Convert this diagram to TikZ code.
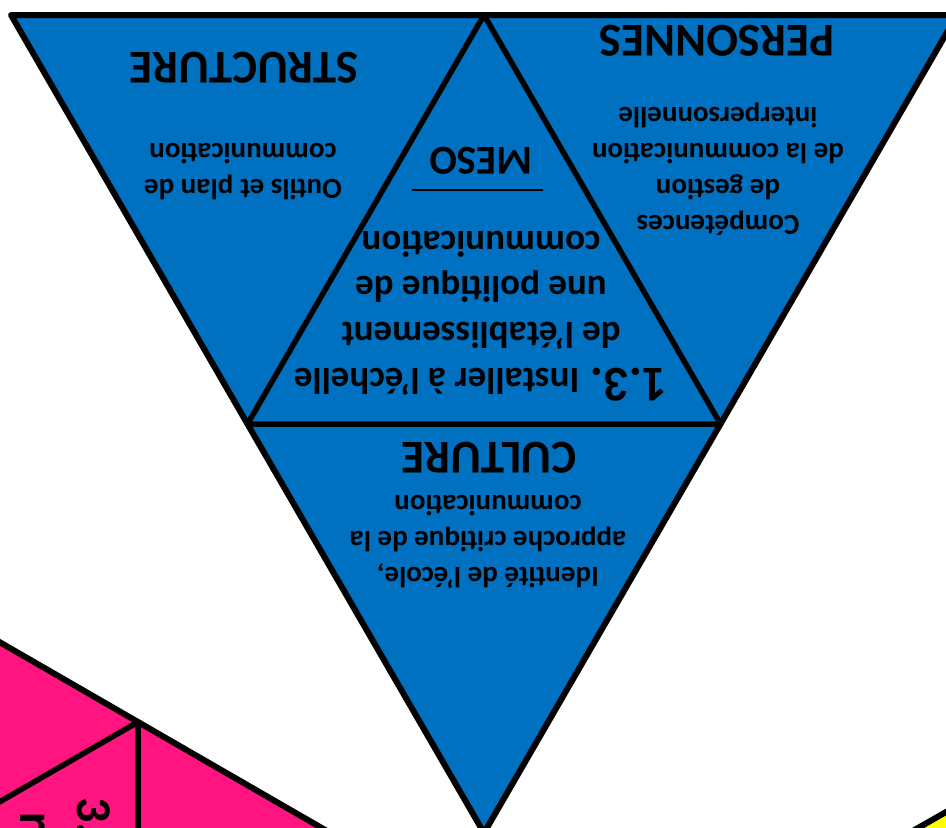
\documentclass[tikz,border=0pt]{standalone}
\usepackage{fontspec}
\setmainfont{Carlito}
\definecolor{tblue}{HTML}{0070C0}
\definecolor{tpink}{HTML}{FF1480}
\definecolor{tyellow}{HTML}{FFFF00}
\begin{document}
\begin{tikzpicture}[x=1pt,y=-1pt,line join=round,
  edge/.style={draw=black,line width=6pt},
  thin edge/.style={draw=black,line width=5.5pt},
  head/.style={font=\bfseries\fontsize{47}{56}\selectfont,rotate=180,anchor=base,inner sep=0pt},
  meso/.style={font=\bfseries\fontsize{41}{48}\selectfont,rotate=180,anchor=base,inner sep=0pt},
  inner/.style={font=\bfseries\fontsize{37}{45.7}\selectfont,rotate=180,anchor=base,inner sep=0pt,align=center},
  body/.style={font=\bfseries\fontsize{29}{36}\selectfont,rotate=180,anchor=base,inner sep=0pt,align=center},
  pinktext/.style={font=\bfseries\fontsize{50}{58}\selectfont,rotate=-90,anchor=base west,inner sep=0pt}]
\useasboundingbox (0,0) rectangle (946,828);
\clip (0,0) rectangle (946,828);
% blue triangle
\coordinate (TL) at (11,15);
\coordinate (TR) at (957,15);
\coordinate (B) at (484,833);
\coordinate (M1) at (484,15);
\coordinate (M2) at (247.5,424);
\coordinate (M3) at (720.5,424);
\fill[tblue] (TL) -- (TR) -- (B) -- cycle;
\draw[edge] (TL) -- (TR) -- (B) -- cycle;
\draw[thin edge] (M1) -- (M2) -- (M3) -- cycle;
% pink triangle (partial)
\coordinate (PV) at (138,722);
\coordinate (PA) at (-20,630.8);
\coordinate (PB) at (380,861.6);
\coordinate (PL) at (-20,813.2);
\coordinate (PD) at (138,870);
\fill[tpink] (PA) -- (PB) -- (-20,870) -- cycle;
\draw[edge] (PA) -- (PB);
\draw[thin edge] (PL) -- (PV) -- (PD);
% yellow triangle (partial)
\coordinate (YA) at (890,844);
\coordinate (YB) at (990,786.9);
\fill[tyellow] (YA) -- (YB) -- (990,870) -- (890,870) -- cycle;
\draw[edge] (YA) -- (YB);
% headings
\node[head] (structure) at (244,52) {STRUCTURE};
\node[head] (personnes) at (717,25) {PERSONNES};
\node[head] (culture) at (489,442) {CULTURE};
\node[meso] (meso) at (481,147) {MESO};
\coordinate (ul1) at (412,190);
\coordinate (ul2) at (543,190);
\draw[line width=2.5pt] (ul1) -- (ul2);
% inner triangle text (anchor = baseline of last line)
\node[inner] (inner) at (481,231) {{\fontsize{50}{58}\selectfont 1.3.} Installer à l’échelle\\de l’établissement\\une politique de\\communication};
% personnes text
\node[body] (ptext) at (718,107) {Compétences\\de gestion\\de la communication\\interpersonnelle};
% structure text
\node[body] (stext) at (243,143) {Outils et plan de\\communication};
% culture text
\node[body] (ctext) at (488,495) {Identité de l’école,\\approche critique de la\\communication};
% pink text (partial)
\node[pinktext] (pk1) at (77,797) {3.};
\node[pinktext] (pk2) at (20,812) {r};
\end{tikzpicture}
\end{document}
